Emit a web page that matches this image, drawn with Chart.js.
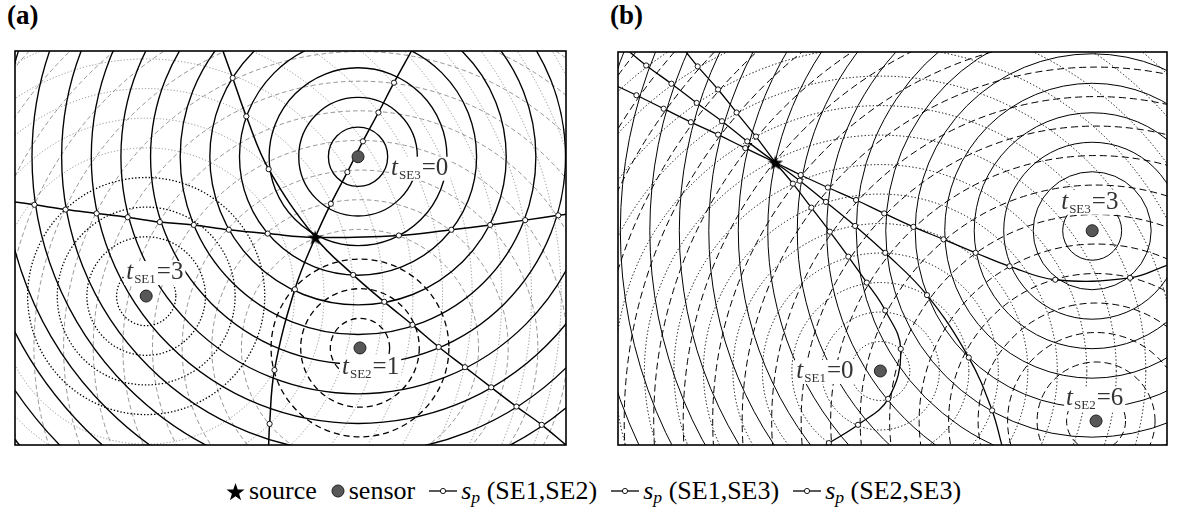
<!DOCTYPE html>
<html>
<head>
<meta charset="utf-8">
<script src="https://cdn.jsdelivr.net/npm/chart.js@4.4.1/dist/chart.umd.min.js"></script>
<style>
  html, body { margin: 0; padding: 0; background: #fff; }
  body { width: 1187px; height: 513px; position: relative; overflow: hidden;
         font-family: "Liberation Serif", "DejaVu Serif", serif; color: #000; }
  .title { position: absolute; top: 0px; font-weight: bold; font-size: 27px; }
  canvas.panel { position: absolute; }
  #legend { position: absolute; left: 0; top: 475px; width: 1187px; height: 32px;
            display: flex; justify-content: center; align-items: center;
            font-size: 26px; white-space: nowrap; }
  #legend .item { display: flex; align-items: center; margin: 0 7px; }
  #legend canvas { margin-right: 4px; }
  #legend sub { font-size: 0.68em; vertical-align: -0.25em; line-height: 0; }
</style>
</head>
<body>
<div class="title" style="left:7px">(a)</div>
<div class="title" style="left:610px">(b)</div>
<canvas id="chartA" class="panel" width="569" height="412" style="left:6px;top:42px"></canvas>
<canvas id="chartB" class="panel" width="567" height="411" style="left:609px;top:43px"></canvas>
<div id="legend"></div>
<script>
// sensor order everywhere: SE1, SE2, SE3
const sensorNames = ['SE1', 'SE2', 'SE3'];

// ---- panel (a) ----
const sensorsA = [[135, 155], [355, 101], [353, 300]];
const triggerA = [3, 1, 0];
const sourceA = [309, 216];
const ringStepsA = [1, 2, 3, 4, 5, 6, 7, 8, 9, 10, 11, 12, 13, 14, 15, 16, 17];
const curveA_SE1SE2 = [[408, 410], [390, 377], [374, 346], [358, 316], [342, 284], [325, 251], [309, 216],
  [288, 162], [267, 78], [262, 22], [261, 0]];
const curveA_SE1SE3 = [[214, 410], [224, 382], [238, 342], [261, 287], [309, 216], [348, 177], [380, 149],
  [409, 125], [436, 102], [463, 81], [490, 60], [516, 40], [542, 21], [567, 0]];
const curveA_SE2SE3 = [[0, 253], [20, 250], [52, 245], [84, 241], [116, 237], [149, 232], [184, 229],
  [220, 224], [260, 220], [309, 216], [395, 218], [449, 224], [489, 229], [525, 234], [559, 239], [567, 240]];

// ---- panel (b) ----
const sensorsB = [[270, 77], [492, 25], [488, 223]];
const triggerB = [0, 6, 3];
const sourceB = [162, 294];
const ringStepsB = [1, 2, 3, 4, 5, 6, 7, 8, 9, 10, 11, 12, 13, 14, 15, 16, 17, 18, 19, 20, 21];
const curveB_SE1SE2 = [[12, 409], [29, 395], [55, 376], [81, 356], [107, 337], [133, 316], [162, 294],
  [187, 275], [214, 253], [244, 228], [275, 200], [318, 156], [361, 91], [385, 36], [395, 0]];
const curveB_SE1SE3 = [[70, 409], [82, 394], [103, 370], [122, 346], [142, 321], [162, 294], [180, 272],
  [199, 247], [218, 222], [237, 196], [256, 169], [275, 140], [291, 100], [278, 48], [247, 21], [217, 2], [214, 0]];
const curveB_SE2SE3 = [[0, 373], [19, 364], [47, 350], [75, 336], [103, 323], [131, 309], [162, 294],
  [188, 281], [216, 268], [245, 255], [274, 241], [304, 227], [335, 214], [368, 200], [403, 186],
  [450, 172], [527, 174], [565, 187]];

const SERIF = '"Liberation Serif", "DejaVu Serif", serif';

function starPath(g, cx, cy, R, r) {
  g.beginPath();
  for (let i = 0; i < 10; i++) {
    const rad = i % 2 ? r : R;
    const ang = -Math.PI / 2 + i * Math.PI / 5;
    g.lineTo(cx + rad * Math.cos(ang), cy + rad * Math.sin(ang));
  }
  g.closePath();
}

function starImage(size) {
  const c = document.createElement('canvas');
  c.width = c.height = size;
  const g = c.getContext('2d');
  starPath(g, size / 2, size / 2 + size * 0.05, size / 2, size * 0.2);
  g.fillStyle = '#000';
  g.fill();
  return c;
}

// wavefront rings + time labels + frame
function wavePlugin(p) {
  return {
    id: 'waves',
    beforeDatasetsDraw(chart) {
      const { ctx, chartArea: a, scales: { x, y } } = chart;
      const unit = x.getPixelForValue(1) - x.getPixelForValue(0);
      ctx.save();
      ctx.beginPath();
      ctx.rect(a.left, a.top, a.width, a.height);
      ctx.clip();
      ['thin', 'thick'].forEach(pass => {
        p.sensors.forEach((s, i) => {
          const st = p.ringStyle[i];
          const cx = x.getPixelForValue(s[0]), cy = y.getPixelForValue(s[1]);
          p.steps.forEach(k => {
            const thick = k <= st.thickUpTo;
            if ((pass === 'thick') !== thick) return;
            const look = thick ? st.thick : st.thin;
            ctx.strokeStyle = look.color;
            ctx.lineWidth = look.width;
            ctx.setLineDash(look.dash);
            ctx.beginPath();
            ctx.arc(cx, cy, k * p.step * unit, 0, Math.PI * 2);
            ctx.stroke();
          });
        });
      });
      ctx.setLineDash([]);

      // labels t_SEi = n
      const fs = 25, sfs = 13;
      p.sensors.forEach((s, i) => {
        const [dx, dy] = p.labelOffsets[i];
        const lx = x.getPixelForValue(s[0]) + dx;
        const ly = y.getPixelForValue(s[1]) + dy;
        const fT = `italic ${fs}px ${SERIF}`;
        const fS = `${sfs}px ${SERIF}`;
        const fN = `${fs}px ${SERIF}`;
        ctx.font = fT; const wT = ctx.measureText('t').width;
        ctx.font = fS; const wS = ctx.measureText(sensorNames[i]).width;
        const rest = '=' + p.trigger[i];
        ctx.font = fN; const wN = ctx.measureText(rest).width;
        const w = wT + wS + wN + 2;
        ctx.fillStyle = '#fff';
        ctx.fillRect(lx - 2, ly - 18, w + 4, 24);
        ctx.fillStyle = '#333';
        ctx.textBaseline = 'alphabetic';
        ctx.font = fT; ctx.fillText('t', lx, ly);
        ctx.font = fS; ctx.fillText(sensorNames[i], lx + wT + 1, ly + 4);
        ctx.font = fN; ctx.fillText(rest, lx + wT + wS + 2, ly);
      });
      ctx.restore();
    },
    afterDraw(chart) {
      const { ctx, chartArea: a } = chart;
      ctx.save();
      ctx.strokeStyle = '#000';
      ctx.lineWidth = 1.6;
      ctx.strokeRect(a.left, a.top, a.width, a.height);
      ctx.restore();
    }
  };
}

function buildPanel(id, p) {
  const pts = arr => arr.map(([x, y]) => ({ x, y }));
  const isSource = c => c.raw && c.raw.x === p.source[0] && c.raw.y === p.source[1];
  const curve = (label, arr) => ({
    label,
    data: pts(arr),
    showLine: true,
    borderColor: '#000',
    borderWidth: p.curveWidth,
    tension: 0.4,
    pointRadius: c => (c.dataIndex === 0 || c.dataIndex === arr.length - 1 || isSource(c)) ? 0 : 2.6,
    pointBackgroundColor: '#fff',
    pointBorderColor: '#000',
    pointBorderWidth: 0.9
  });
  return new Chart(document.getElementById(id), {
    type: 'scatter',
    data: {
      datasets: [
        { label: 'source', data: pts([p.source]), pointStyle: starImage(16), pointRadius: 8 },
        { label: 'sensor', data: pts(p.sensors), pointRadius: 6, pointBackgroundColor: '#575757',
          pointBorderColor: '#1e1e1e', pointBorderWidth: 1 },
        curve('SE1,SE2', p.curves[0]),
        curve('SE1,SE3', p.curves[1]),
        curve('SE2,SE3', p.curves[2])
      ]
    },
    options: {
      responsive: false,
      animation: false,
      events: [],
      layout: { padding: 1 },
      scales: {
        x: { type: 'linear', min: 0, max: p.width, display: false },
        y: { type: 'linear', min: 0, max: p.height, display: false }
      },
      plugins: { legend: { display: false }, tooltip: { enabled: false } }
    },
    plugins: [wavePlugin(p)]
  });
}

const thinGrey = dash => ({ color: '#7a7a7a', width: 0.8, dash });

buildPanel('chartA', {
  width: 567, height: 410, step: 30.5, steps: ringStepsA,
  sensors: sensorsA, trigger: triggerA, source: sourceA,
  curves: [curveA_SE1SE2, curveA_SE1SE3, curveA_SE2SE3], curveWidth: 1.5,
  ringStyle: [
    { thickUpTo: 4, thick: { color: '#000', width: 1.3, dash: [1.4, 2] }, thin: thinGrey([1.2, 2]) },
    { thickUpTo: 3, thick: { color: '#000', width: 1.3, dash: [6, 4] }, thin: thinGrey([4.5, 3]) },
    { thickUpTo: 99, thick: { color: '#000', width: 1.35, dash: [] }, thin: thinGrey([]) }
  ],
  labelOffsets: [[-20, -17], [-18, 26], [33, 18]]
});

buildPanel('chartB', {
  width: 565, height: 409, step: 30.35, steps: ringStepsB,
  sensors: sensorsB, trigger: triggerB, source: sourceB,
  curves: [curveB_SE1SE2, curveB_SE1SE3, curveB_SE2SE3], curveWidth: 1.3,
  ringStyle: [
    { thickUpTo: 99, thick: { color: '#000', width: 1, dash: [1.3, 2.2] }, thin: thinGrey([]) },
    { thickUpTo: 99, thick: { color: '#000', width: 1, dash: [7, 4] }, thin: thinGrey([]) },
    { thickUpTo: 99, thick: { color: '#000', width: 1, dash: [] }, thin: thinGrey([]) }
  ],
  labelOffsets: [[-84, 7], [-30, -16], [-31, -22]]
});

// legend
function icon(w, h, draw) {
  const c = document.createElement('canvas');
  c.width = w; c.height = h;
  draw(c.getContext('2d'), w, h);
  return c;
}
const legend = document.getElementById('legend');
function addItem(canvas, html) {
  const s = document.createElement('span');
  s.className = 'item';
  s.appendChild(canvas);
  const t = document.createElement('span');
  t.innerHTML = html;
  s.appendChild(t);
  legend.appendChild(s);
}
addItem(icon(19, 19, (g) => { starPath(g, 9.5, 10.5, 9.5, 3.8); g.fillStyle = '#000'; g.fill(); }), 'source');
addItem(icon(14, 14, (g) => {
  g.beginPath(); g.arc(7, 7, 6, 0, Math.PI * 2);
  g.fillStyle = '#575757'; g.fill(); g.lineWidth = 1; g.strokeStyle = '#1e1e1e'; g.stroke();
}), 'sensor');
['SE1,SE2', 'SE1,SE3', 'SE2,SE3'].forEach(name => {
  addItem(icon(28, 12, (g, w, h) => {
    g.beginPath(); g.moveTo(0, 6); g.lineTo(w, 6); g.lineWidth = 1.3; g.strokeStyle = '#000'; g.stroke();
    g.beginPath(); g.arc(w / 2, 6, 2.6, 0, Math.PI * 2); g.fillStyle = '#fff'; g.fill();
    g.lineWidth = 0.9; g.stroke();
  }), '<i>s</i><sub><i>p</i></sub>&nbsp;(' + name + ')');
});
</script>
</body>
</html>
